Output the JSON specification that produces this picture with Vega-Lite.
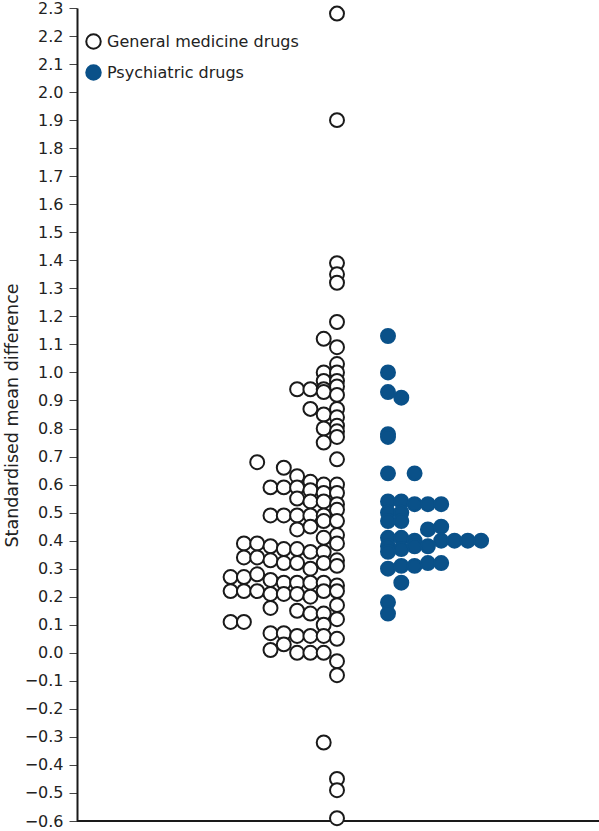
{
  "$schema": "https://vega.github.io/schema/vega-lite/v6.json",
  "width": 522,
  "height": 813,
  "autosize": "none",
  "padding": {"left": 77, "top": 8, "right": 0, "bottom": 10},
  "background": "white",
  "config": {
    "view": {"stroke": null},
    "font": "DejaVu Sans",
    "legend": {"title": null},
    "axisY": {
      "grid": false,
      "domainColor": "#1a1a1a",
      "domainWidth": 2,
      "tickColor": "#444",
      "tickSize": 8,
      "tickWidth": 1,
      "labelFont": "DejaVu Sans",
      "labelFontSize": 16,
      "labelColor": "#222",
      "labelPadding": 6,
      "labelOverlap": false,
      "titleFont": "DejaVu Sans",
      "titleFontSize": 17.5,
      "titleFontWeight": "normal",
      "titleColor": "#222"
    }
  },
  "data": {
    "values": [
      {"group": "General medicine drugs", "smd": 2.28, "slot": 0},
      {"group": "General medicine drugs", "smd": 1.90, "slot": 0},
      {"group": "General medicine drugs", "smd": 1.39, "slot": 0},
      {"group": "General medicine drugs", "smd": 1.35, "slot": 0},
      {"group": "General medicine drugs", "smd": 1.32, "slot": 0},
      {"group": "General medicine drugs", "smd": 1.18, "slot": 0},
      {"group": "General medicine drugs", "smd": 1.12, "slot": -1},
      {"group": "General medicine drugs", "smd": 1.09, "slot": 0},
      {"group": "General medicine drugs", "smd": 1.03, "slot": 0},
      {"group": "General medicine drugs", "smd": 1.00, "slot": -1},
      {"group": "General medicine drugs", "smd": 1.00, "slot": 0},
      {"group": "General medicine drugs", "smd": 0.97, "slot": -1},
      {"group": "General medicine drugs", "smd": 0.97, "slot": 0},
      {"group": "General medicine drugs", "smd": 0.94, "slot": -3},
      {"group": "General medicine drugs", "smd": 0.94, "slot": -2},
      {"group": "General medicine drugs", "smd": 0.94, "slot": -1},
      {"group": "General medicine drugs", "smd": 0.95, "slot": 0},
      {"group": "General medicine drugs", "smd": 0.93, "slot": -1},
      {"group": "General medicine drugs", "smd": 0.92, "slot": 0},
      {"group": "General medicine drugs", "smd": 0.87, "slot": -2},
      {"group": "General medicine drugs", "smd": 0.87, "slot": 0},
      {"group": "General medicine drugs", "smd": 0.85, "slot": -1},
      {"group": "General medicine drugs", "smd": 0.84, "slot": 0},
      {"group": "General medicine drugs", "smd": 0.81, "slot": 0},
      {"group": "General medicine drugs", "smd": 0.80, "slot": -1},
      {"group": "General medicine drugs", "smd": 0.79, "slot": 0},
      {"group": "General medicine drugs", "smd": 0.77, "slot": 0},
      {"group": "General medicine drugs", "smd": 0.75, "slot": -1},
      {"group": "General medicine drugs", "smd": 0.68, "slot": -6},
      {"group": "General medicine drugs", "smd": 0.69, "slot": 0},
      {"group": "General medicine drugs", "smd": 0.66, "slot": -4},
      {"group": "General medicine drugs", "smd": 0.63, "slot": -3},
      {"group": "General medicine drugs", "smd": 0.61, "slot": -2},
      {"group": "General medicine drugs", "smd": 0.60, "slot": -1},
      {"group": "General medicine drugs", "smd": 0.60, "slot": 0},
      {"group": "General medicine drugs", "smd": 0.59, "slot": -5},
      {"group": "General medicine drugs", "smd": 0.59, "slot": -4},
      {"group": "General medicine drugs", "smd": 0.59, "slot": -3},
      {"group": "General medicine drugs", "smd": 0.58, "slot": -2},
      {"group": "General medicine drugs", "smd": 0.57, "slot": -1},
      {"group": "General medicine drugs", "smd": 0.57, "slot": 0},
      {"group": "General medicine drugs", "smd": 0.55, "slot": -3},
      {"group": "General medicine drugs", "smd": 0.54, "slot": -2},
      {"group": "General medicine drugs", "smd": 0.54, "slot": -1},
      {"group": "General medicine drugs", "smd": 0.53, "slot": 0},
      {"group": "General medicine drugs", "smd": 0.51, "slot": 0},
      {"group": "General medicine drugs", "smd": 0.49, "slot": -5},
      {"group": "General medicine drugs", "smd": 0.49, "slot": -4},
      {"group": "General medicine drugs", "smd": 0.49, "slot": -3},
      {"group": "General medicine drugs", "smd": 0.49, "slot": -2},
      {"group": "General medicine drugs", "smd": 0.49, "slot": -1},
      {"group": "General medicine drugs", "smd": 0.47, "slot": -1},
      {"group": "General medicine drugs", "smd": 0.44, "slot": -3},
      {"group": "General medicine drugs", "smd": 0.45, "slot": -2},
      {"group": "General medicine drugs", "smd": 0.47, "slot": 0},
      {"group": "General medicine drugs", "smd": 0.42, "slot": 0},
      {"group": "General medicine drugs", "smd": 0.41, "slot": -1},
      {"group": "General medicine drugs", "smd": 0.39, "slot": -7},
      {"group": "General medicine drugs", "smd": 0.39, "slot": -6},
      {"group": "General medicine drugs", "smd": 0.38, "slot": -5},
      {"group": "General medicine drugs", "smd": 0.37, "slot": -4},
      {"group": "General medicine drugs", "smd": 0.37, "slot": -3},
      {"group": "General medicine drugs", "smd": 0.36, "slot": -2},
      {"group": "General medicine drugs", "smd": 0.36, "slot": -1},
      {"group": "General medicine drugs", "smd": 0.39, "slot": 0},
      {"group": "General medicine drugs", "smd": 0.34, "slot": -7},
      {"group": "General medicine drugs", "smd": 0.34, "slot": -6},
      {"group": "General medicine drugs", "smd": 0.33, "slot": -5},
      {"group": "General medicine drugs", "smd": 0.32, "slot": -4},
      {"group": "General medicine drugs", "smd": 0.32, "slot": -3},
      {"group": "General medicine drugs", "smd": 0.32, "slot": -1},
      {"group": "General medicine drugs", "smd": 0.33, "slot": 0},
      {"group": "General medicine drugs", "smd": 0.31, "slot": 0},
      {"group": "General medicine drugs", "smd": 0.30, "slot": -2},
      {"group": "General medicine drugs", "smd": 0.27, "slot": -8},
      {"group": "General medicine drugs", "smd": 0.27, "slot": -7},
      {"group": "General medicine drugs", "smd": 0.28, "slot": -6},
      {"group": "General medicine drugs", "smd": 0.26, "slot": -5},
      {"group": "General medicine drugs", "smd": 0.25, "slot": -4},
      {"group": "General medicine drugs", "smd": 0.25, "slot": -3},
      {"group": "General medicine drugs", "smd": 0.25, "slot": -2},
      {"group": "General medicine drugs", "smd": 0.25, "slot": -1},
      {"group": "General medicine drugs", "smd": 0.24, "slot": 0},
      {"group": "General medicine drugs", "smd": 0.22, "slot": -8},
      {"group": "General medicine drugs", "smd": 0.22, "slot": -7},
      {"group": "General medicine drugs", "smd": 0.22, "slot": -6},
      {"group": "General medicine drugs", "smd": 0.21, "slot": -5},
      {"group": "General medicine drugs", "smd": 0.21, "slot": -4},
      {"group": "General medicine drugs", "smd": 0.21, "slot": -3},
      {"group": "General medicine drugs", "smd": 0.20, "slot": -2},
      {"group": "General medicine drugs", "smd": 0.22, "slot": -1},
      {"group": "General medicine drugs", "smd": 0.22, "slot": 0},
      {"group": "General medicine drugs", "smd": 0.17, "slot": 0},
      {"group": "General medicine drugs", "smd": 0.16, "slot": -5},
      {"group": "General medicine drugs", "smd": 0.15, "slot": -3},
      {"group": "General medicine drugs", "smd": 0.14, "slot": -2},
      {"group": "General medicine drugs", "smd": 0.14, "slot": -1},
      {"group": "General medicine drugs", "smd": 0.12, "slot": 0},
      {"group": "General medicine drugs", "smd": 0.10, "slot": -1},
      {"group": "General medicine drugs", "smd": 0.11, "slot": -8},
      {"group": "General medicine drugs", "smd": 0.11, "slot": -7},
      {"group": "General medicine drugs", "smd": 0.07, "slot": -5},
      {"group": "General medicine drugs", "smd": 0.07, "slot": -4},
      {"group": "General medicine drugs", "smd": 0.06, "slot": -3},
      {"group": "General medicine drugs", "smd": 0.06, "slot": -2},
      {"group": "General medicine drugs", "smd": 0.06, "slot": -1},
      {"group": "General medicine drugs", "smd": 0.05, "slot": 0},
      {"group": "General medicine drugs", "smd": 0.03, "slot": -4},
      {"group": "General medicine drugs", "smd": 0.01, "slot": -5},
      {"group": "General medicine drugs", "smd": 0.00, "slot": -3},
      {"group": "General medicine drugs", "smd": 0.00, "slot": -2},
      {"group": "General medicine drugs", "smd": 0.00, "slot": -1},
      {"group": "General medicine drugs", "smd": -0.03, "slot": 0},
      {"group": "General medicine drugs", "smd": -0.08, "slot": 0},
      {"group": "General medicine drugs", "smd": -0.32, "slot": -1},
      {"group": "General medicine drugs", "smd": -0.45, "slot": 0},
      {"group": "General medicine drugs", "smd": -0.49, "slot": 0},
      {"group": "General medicine drugs", "smd": -0.59, "slot": 0},
      {"group": "Psychiatric drugs", "smd": 1.13, "slot": 0},
      {"group": "Psychiatric drugs", "smd": 1.00, "slot": 0},
      {"group": "Psychiatric drugs", "smd": 0.93, "slot": 0},
      {"group": "Psychiatric drugs", "smd": 0.91, "slot": 1},
      {"group": "Psychiatric drugs", "smd": 0.78, "slot": 0},
      {"group": "Psychiatric drugs", "smd": 0.77, "slot": 0},
      {"group": "Psychiatric drugs", "smd": 0.64, "slot": 0},
      {"group": "Psychiatric drugs", "smd": 0.64, "slot": 2},
      {"group": "Psychiatric drugs", "smd": 0.54, "slot": 0},
      {"group": "Psychiatric drugs", "smd": 0.54, "slot": 1},
      {"group": "Psychiatric drugs", "smd": 0.53, "slot": 2},
      {"group": "Psychiatric drugs", "smd": 0.53, "slot": 3},
      {"group": "Psychiatric drugs", "smd": 0.53, "slot": 4},
      {"group": "Psychiatric drugs", "smd": 0.50, "slot": 0},
      {"group": "Psychiatric drugs", "smd": 0.50, "slot": 1},
      {"group": "Psychiatric drugs", "smd": 0.47, "slot": 0},
      {"group": "Psychiatric drugs", "smd": 0.47, "slot": 1},
      {"group": "Psychiatric drugs", "smd": 0.44, "slot": 3},
      {"group": "Psychiatric drugs", "smd": 0.45, "slot": 4},
      {"group": "Psychiatric drugs", "smd": 0.41, "slot": 0},
      {"group": "Psychiatric drugs", "smd": 0.41, "slot": 1},
      {"group": "Psychiatric drugs", "smd": 0.40, "slot": 2},
      {"group": "Psychiatric drugs", "smd": 0.40, "slot": 4},
      {"group": "Psychiatric drugs", "smd": 0.40, "slot": 5},
      {"group": "Psychiatric drugs", "smd": 0.40, "slot": 6},
      {"group": "Psychiatric drugs", "smd": 0.40, "slot": 7},
      {"group": "Psychiatric drugs", "smd": 0.38, "slot": 0},
      {"group": "Psychiatric drugs", "smd": 0.37, "slot": 1},
      {"group": "Psychiatric drugs", "smd": 0.38, "slot": 2},
      {"group": "Psychiatric drugs", "smd": 0.38, "slot": 3},
      {"group": "Psychiatric drugs", "smd": 0.36, "slot": 0},
      {"group": "Psychiatric drugs", "smd": 0.30, "slot": 0},
      {"group": "Psychiatric drugs", "smd": 0.31, "slot": 1},
      {"group": "Psychiatric drugs", "smd": 0.31, "slot": 2},
      {"group": "Psychiatric drugs", "smd": 0.32, "slot": 3},
      {"group": "Psychiatric drugs", "smd": 0.32, "slot": 4},
      {"group": "Psychiatric drugs", "smd": 0.25, "slot": 1},
      {"group": "Psychiatric drugs", "smd": 0.18, "slot": 0},
      {"group": "Psychiatric drugs", "smd": 0.14, "slot": 0}
    ]
  },
  "layer": [
    {
      "mark": {"type": "rule", "color": "#1a1a1a", "strokeWidth": 2},
      "encoding": {
        "y": {
          "datum": -0.6,
          "type": "quantitative",
          "scale": {"domain": [-0.6, 2.3], "nice": false, "zero": false},
          "axis": {
            "title": "Standardised mean difference",
            "values": [-0.6, -0.5, -0.4, -0.3, -0.2, -0.1, 0, 0.1, 0.2, 0.3, 0.4, 0.5, 0.6, 0.7, 0.8, 0.9, 1.0, 1.1, 1.2, 1.3, 1.4, 1.5, 1.6, 1.7, 1.8, 1.9, 2.0, 2.1, 2.2, 2.3],
            "format": ".1f",
            "labelOverlap": false,
            "titleX": -65,
            "titleY": 407,
            "titleAngle": 270,
            "titleAlign": "center",
            "titleBaseline": "middle"
          }
        }
      }
    },
    {
      "mark": {"type": "point", "shape": "circle", "filled": false, "size": 195, "strokeWidth": 2, "opacity": 1},
      "encoding": {
        "x": {
          "field": "group",
          "type": "nominal",
          "sort": ["General medicine drugs", "Psychiatric drugs"],
          "scale": {"type": "band", "domain": ["General medicine drugs", "Psychiatric drugs"], "paddingInner": 0, "paddingOuter": 0, "range": [234.5, 336.5]},
          "axis": null
        },
        "xOffset": {
          "field": "slot",
          "type": "quantitative",
          "scale": {"domain": [-10, 10], "range": [-107.5, 158.5]}
        },
        "y": {
          "field": "smd",
          "type": "quantitative",
          "scale": {"domain": [-0.6, 2.3], "nice": false, "zero": false},
          "axis": {
            "title": "Standardised mean difference",
            "values": [-0.6, -0.5, -0.4, -0.3, -0.2, -0.1, 0, 0.1, 0.2, 0.3, 0.4, 0.5, 0.6, 0.7, 0.8, 0.9, 1.0, 1.1, 1.2, 1.3, 1.4, 1.5, 1.6, 1.7, 1.8, 1.9, 2.0, 2.1, 2.2, 2.3],
            "format": ".1f",
            "labelOverlap": false,
            "titleX": -65,
            "titleY": 407,
            "titleAngle": 270,
            "titleAlign": "center",
            "titleBaseline": "middle"
          }
        },
        "fill": {
          "field": "group",
          "type": "nominal",
          "scale": {"domain": ["General medicine drugs", "Psychiatric drugs"], "range": ["white", "#0a5189"]},
          "legend": {"title": null, "orient": "none", "legendX": 8, "legendY": 25, "symbolSize": 210, "symbolStrokeWidth": 2, "labelFont": "DejaVu Sans", "labelFontSize": 16, "labelColor": "#222", "labelOffset": 5, "labelLimit": 400, "rowPadding": 8}
        },
        "stroke": {
          "field": "group",
          "type": "nominal",
          "scale": {"domain": ["General medicine drugs", "Psychiatric drugs"], "range": ["#1a1a1a", "#0a5189"]},
          "legend": {"title": null, "orient": "none", "legendX": 8, "legendY": 25, "symbolSize": 210, "symbolStrokeWidth": 2, "labelFont": "DejaVu Sans", "labelFontSize": 16, "labelColor": "#222", "labelOffset": 5, "labelLimit": 400, "rowPadding": 8}
        }
      }
    }
  ]
}
